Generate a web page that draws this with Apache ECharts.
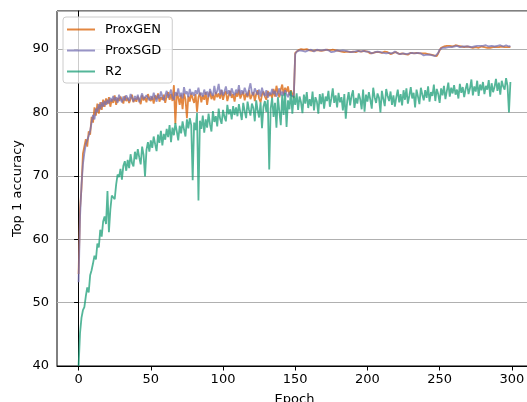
<!DOCTYPE html>
<html>
<head>
<meta charset="utf-8">
<script src="https://cdn.jsdelivr.net/npm/echarts@6/dist/echarts.min.js"></script>
<style>
  html, body {margin: 0; padding: 0; background: #fff;}
  #chart {width: 527px; height: 402px;}
</style>
</head>
<body>
<div id="chart"></div>
<script>
// top-1 accuracy per epoch (0..299)
const proxGen = [
  54.5, 64.8, 68.0, 73.5, 73.2, 75.8, 74.6, 77.0, 76.5, 79.3,
  78.4, 80.8, 79.5, 81.4, 79.8, 81.6, 80.4, 82.0, 80.9, 82.2,
  81.3, 82.4, 80.9, 82.1, 81.5, 82.7, 81.2, 82.3, 81.8, 82.5,
  82.0, 81.4, 82.6, 81.8, 82.3, 81.5, 82.1, 82.8, 81.6, 82.2,
  81.7, 82.5, 82.0, 81.3, 82.7, 81.9, 82.4, 81.6, 82.9, 82.2,
  81.8, 82.5, 81.4, 82.7, 82.1, 83.0, 81.7, 82.4, 82.0, 82.8,
  81.5, 82.6, 83.2, 82.0, 82.9, 81.8, 84.3, 78.2, 83.1, 82.4,
  81.2, 82.8, 80.5, 83.0, 82.1, 79.1, 82.6, 81.7, 83.0, 82.2,
  81.5, 82.9, 80.1, 82.4, 83.1, 81.6, 82.7, 82.0, 83.2, 81.2,
  82.6, 83.3, 82.1, 82.8, 81.9, 83.2, 82.4, 83.0, 82.2, 83.5,
  82.0, 82.9, 83.3, 81.8, 82.7, 83.4, 82.3, 82.9, 81.7, 83.1,
  82.5, 83.6, 82.2, 82.8, 83.3, 81.9, 83.0, 82.4, 83.5, 82.1,
  82.7, 83.2, 81.8, 82.9, 83.5, 82.2, 81.6, 82.8, 83.3, 82.5,
  82.0, 83.4, 82.6, 83.0, 82.3, 83.7, 82.5, 84.2, 83.1, 82.4,
  83.6, 84.4, 82.8, 83.9, 83.2, 84.1, 82.7, 83.5, 82.9, 82.3,
  89.4, 89.7, 89.8, 89.7, 90.0, 89.8, 89.9, 89.7, 90.0, 89.9,
  89.8, 90.0, 89.7, 89.9, 89.8, 90.0, 89.8, 89.9, 89.7, 89.9,
  89.8, 89.7, 89.9, 89.7, 89.8, 89.6, 89.9, 89.7, 89.8, 89.6,
  89.7, 89.8, 89.6, 89.7, 89.5, 89.8, 89.6, 89.7, 89.5, 89.7,
  89.6, 89.8, 89.5, 89.6, 89.7, 89.4, 89.6, 89.5, 89.7, 89.4,
  89.6, 89.5, 89.3, 89.6, 89.4, 89.6, 89.5, 89.3, 89.5, 89.6,
  89.4, 89.5, 89.6, 89.3, 89.5, 89.4, 89.2, 89.5, 89.4, 89.3,
  89.5, 89.4, 89.2, 89.4, 89.3, 89.5, 89.2, 89.4, 89.1, 89.3,
  89.4, 89.2, 89.3, 89.1, 89.4, 89.2, 89.3, 89.0, 89.3, 89.1,
  89.3, 89.0, 89.2, 88.9, 89.1, 88.8, 89.0, 89.2, 88.9, 89.3,
  89.8, 90.2, 90.1, 90.4, 90.3, 90.5, 90.4, 90.5, 90.6, 90.4,
  90.5, 90.6, 90.4, 90.5, 90.6, 90.4, 90.5, 90.3, 90.5, 90.4,
  90.5, 90.3, 90.4, 90.2, 90.4, 90.3, 90.4, 90.2, 90.3, 90.4,
  90.2, 90.3, 90.4, 90.2, 90.3, 90.2, 90.4, 90.3, 90.2, 90.3,
  90.2, 90.3, 90.2, 90.4, 90.2, 90.3, 90.2, 90.3, 90.2, 90.3
];

const proxSgd = [
  53.2, 63.5, 68.5, 71.8, 73.6, 75.0, 75.2, 76.3, 77.1, 78.4,
  79.6, 78.9, 80.6, 80.1, 81.3, 80.5, 81.6, 80.9, 81.8, 81.2,
  82.0, 81.4, 82.3, 81.7, 82.6, 81.9, 82.4, 81.5, 82.8, 82.1,
  81.6, 82.5, 81.9, 82.7, 82.2, 81.8, 82.9, 82.3, 81.7, 82.6,
  82.0, 82.8, 81.6, 82.4, 83.0, 82.1, 81.8, 82.7, 82.3, 81.9,
  82.6, 82.0, 83.1, 82.4, 81.7, 82.8, 82.2, 83.3, 82.5, 81.9,
  82.7, 83.4, 82.3, 82.9, 83.6, 82.4, 82.0, 83.2, 82.6, 83.8,
  82.5, 83.1, 82.2, 84.0, 82.9, 83.3, 82.4, 83.7, 82.8, 83.2,
  82.6, 83.5, 82.9, 83.9, 82.7, 83.1, 82.5, 83.6, 82.8, 83.3,
  82.4, 83.7, 83.0, 82.6, 84.2, 82.9, 83.4, 84.5, 82.8, 83.6,
  82.7, 83.3, 84.1, 82.9, 83.5, 82.6, 83.8, 83.1, 82.7, 83.6,
  83.0, 84.3, 82.8, 83.5, 82.9, 83.9, 83.2, 82.6, 83.7, 84.6,
  83.1, 82.7, 83.8, 83.3, 82.8, 83.6, 82.5, 83.9, 83.0, 82.6,
  83.5, 82.3, 83.2, 82.8, 83.7, 82.9, 83.4, 82.5, 83.1, 83.8,
  82.7, 83.3, 82.6, 83.5, 82.9, 82.4, 83.2, 82.7, 83.0, 82.5,
  89.2, 89.6, 89.7, 89.8, 89.9, 89.7, 89.8, 89.6, 89.9, 89.8,
  89.7, 89.9, 89.8, 89.6, 89.8, 89.9, 89.7, 89.8, 89.6, 89.8,
  89.7, 89.9, 89.6, 89.8, 89.7, 89.5, 89.8, 89.6, 89.7, 89.8,
  89.6, 89.7, 89.5, 89.8, 89.6, 89.7, 89.5, 89.6, 89.8, 89.5,
  89.7, 89.6, 89.4, 89.7, 89.5, 89.6, 89.4, 89.7, 89.5, 89.6,
  89.4, 89.6, 89.5, 89.3, 89.6, 89.5, 89.4, 89.6, 89.3, 89.5,
  89.6, 89.4, 89.5, 89.3, 89.6, 89.4, 89.5, 89.3, 89.4, 89.6,
  89.4, 89.3, 89.5, 89.2, 89.4, 89.3, 89.5, 89.2, 89.4, 89.3,
  89.2, 89.4, 89.1, 89.3, 89.2, 89.4, 89.1, 89.3, 89.2, 89.0,
  89.2, 89.1, 88.9, 89.1, 88.8, 89.0, 88.7, 88.9, 89.1, 89.4,
  89.9, 90.1, 90.2, 90.3, 90.2, 90.4, 90.3, 90.4, 90.3, 90.5,
  90.4, 90.3, 90.5, 90.4, 90.3, 90.5, 90.4, 90.6, 90.4, 90.5,
  90.4, 90.5, 90.3, 90.5, 90.4, 90.6, 90.5, 90.4, 90.5, 90.6,
  90.5, 90.4, 90.6, 90.5, 90.4, 90.6, 90.5, 90.5, 90.4, 90.6,
  90.5, 90.4, 90.6, 90.5, 90.4, 90.5, 90.6, 90.5, 90.4, 90.5
];

const r2 = [
  40.0, 45.2, 47.6, 48.8, 49.3, 51.0, 52.4, 51.6, 54.3, 55.1,
  56.2, 57.4, 56.8, 59.3, 58.7, 61.5, 60.4, 62.8, 63.6, 62.4,
  67.6, 61.1, 64.7, 66.9, 67.2, 66.3, 68.6, 70.2, 69.8, 71.1,
  69.4, 71.6, 72.3, 70.8, 72.5, 71.2, 73.4, 72.0, 71.5, 73.8,
  72.6, 74.2, 72.9, 71.8, 74.6, 73.3, 69.9, 74.1, 75.3, 73.8,
  75.6, 74.4, 76.2, 75.0, 73.9, 76.5, 75.2, 77.1, 74.8, 76.6,
  75.7, 77.4, 76.1, 78.0, 75.3, 77.6, 76.4, 78.3, 77.0, 75.6,
  77.9, 76.7, 78.6, 77.3, 76.2, 78.9, 77.5, 79.1, 78.0, 69.3,
  78.4, 77.2, 79.9, 66.1, 78.7, 77.4, 79.5, 76.8, 78.9, 77.6,
  79.8, 78.1, 77.0, 80.2, 78.5, 79.4, 77.8, 80.6, 79.0, 78.2,
  80.4, 79.3, 78.6, 81.2, 79.7, 80.5, 78.9, 81.0, 79.6, 80.8,
  79.4, 81.3, 80.0, 78.8, 81.5, 80.2, 79.1, 81.7, 80.4, 79.5,
  81.4, 80.7, 78.6, 81.9, 80.3, 79.2, 81.6, 77.5, 80.9, 81.8,
  80.1, 82.0, 71.0, 80.6, 82.3, 79.3, 81.5, 77.6, 82.4, 80.2,
  78.0, 82.8, 79.6, 83.1, 77.7, 81.9, 80.5, 83.4, 79.8, 82.6,
  81.2, 83.0, 80.4, 82.5, 81.6, 79.9, 82.8, 81.4, 83.2, 80.7,
  82.1, 81.0, 83.3, 80.3, 82.4, 81.7, 79.8, 82.9, 81.3, 83.0,
  80.6, 82.5, 81.8, 83.4, 80.9, 82.2, 83.8, 81.5, 82.7, 80.8,
  83.1, 81.6, 82.4, 80.3, 82.9, 79.0, 81.8, 83.2, 81.1, 82.6,
  83.5, 80.7, 82.3, 81.4, 83.0, 82.1, 80.5, 83.6, 80.1, 82.8,
  81.7, 83.2, 82.0, 80.6, 83.9, 82.4, 81.5, 83.0, 82.3, 80.0,
  83.4, 82.1, 81.0, 83.7, 82.6, 81.8, 83.3, 81.2, 82.7, 80.9,
  82.4, 83.6, 81.6, 82.9, 81.1, 83.5, 82.0, 83.8, 81.4, 82.6,
  84.0, 82.2, 83.1, 80.8, 83.6, 82.5, 81.3, 83.9, 82.8, 81.9,
  83.5, 82.3, 84.1, 81.7, 83.2, 82.6, 84.4, 81.8, 83.7, 82.9,
  81.5, 83.8, 82.7, 84.2, 82.1, 83.4, 84.7, 82.5, 83.9, 83.0,
  84.3, 82.8, 83.6, 82.2, 84.5, 83.1, 84.0, 82.4, 83.7, 84.6,
  82.9, 83.8, 85.2, 82.7, 84.1, 83.3, 85.0, 82.6, 84.4, 83.5,
  84.8, 82.9, 84.2, 83.6, 85.1, 82.5, 84.6, 83.2, 84.0, 85.3,
  83.4, 84.7, 82.8, 85.0, 84.1, 83.6, 85.4, 84.2, 80.0, 84.8
];

const seriesNames = ['ProxGEN', 'ProxSGD', 'R2'];
const xTicks = [0, 50, 100, 150, 200, 250, 300];

const colors = ['rgba(217,95,2,0.75)', 'rgba(117,112,179,0.75)', 'rgba(27,158,119,0.75)'];
const font = 'DejaVu Sans';

const toPoints = vals => vals.map((v, i) => [i, v]);

const chart = echarts.init(document.getElementById('chart'));
chart.setOption({
  animation: false,
  color: colors,
  textStyle: {fontFamily: font, color: '#000'},
  grid: {
    left: 57, right: -5, top: 11, bottom: 36,
    show: true, borderColor: '#000', borderWidth: 1,
    outerBoundsMode: 'none',
    containLabel: false
  },
  legend: {
    left: 63, top: 17,
    orient: 'vertical',
    data: seriesNames,
    icon: 'rect',
    itemWidth: 28, itemHeight: 2,
    itemGap: 8,
    padding: [6, 11, 5, 4],
    borderColor: '#cccccc', borderWidth: 1, borderRadius: 3,
    backgroundColor: 'rgba(255,255,255,0.8)',
    textStyle: {fontFamily: font, fontSize: 13, color: '#000', lineHeight: 13, padding: [0, 0, 0, 5]}
  },
  xAxis: {
    type: 'value',
    min: -14.95, max: 313.95,
    name: 'Epoch', nameLocation: 'middle', nameGap: 27,
    nameMoveOverlap: false,
    nameTextStyle: {fontFamily: font, fontSize: 13, color: '#000'},
    axisLine: {show: true, lineStyle: {color: '#000', width: 1}},
    axisTick: {show: true, customValues: xTicks, length: 4.5, lineStyle: {color: '#000'}},
    axisLabel: {customValues: xTicks, margin: 7, fontFamily: font, fontSize: 13, color: '#000'},
    splitLine: {show: false}
  },
  yAxis: {
    type: 'value',
    min: 40, max: 96, interval: 10,
    name: 'Top 1 accuracy', nameLocation: 'middle', nameGap: 33,
    nameMoveOverlap: false,
    nameTextStyle: {fontFamily: font, fontSize: 13, color: '#000'},
    axisLine: {show: true, lineStyle: {color: '#000', width: 1}},
    axisTick: {show: true, length: 4.5, lineStyle: {color: '#000'}},
    axisLabel: {
      margin: 8, fontFamily: font, fontSize: 13, color: '#000',
      showMaxLabel: false,
      formatter: v => (v % 10 === 0 ? String(v) : '')
    },
    splitLine: {show: true, lineStyle: {color: '#b0b0b0', width: 1}}
  },
  series: [
    {name: seriesNames[0], type: 'line', data: toPoints(proxGen), showSymbol: false, lineStyle: {width: 1.8}},
    {name: seriesNames[1], type: 'line', data: toPoints(proxSgd), showSymbol: false, lineStyle: {width: 1.8}},
    {name: seriesNames[2], type: 'line', data: toPoints(r2), showSymbol: false, lineStyle: {width: 1.8}}
  ]
});
</script>
</body>
</html>
